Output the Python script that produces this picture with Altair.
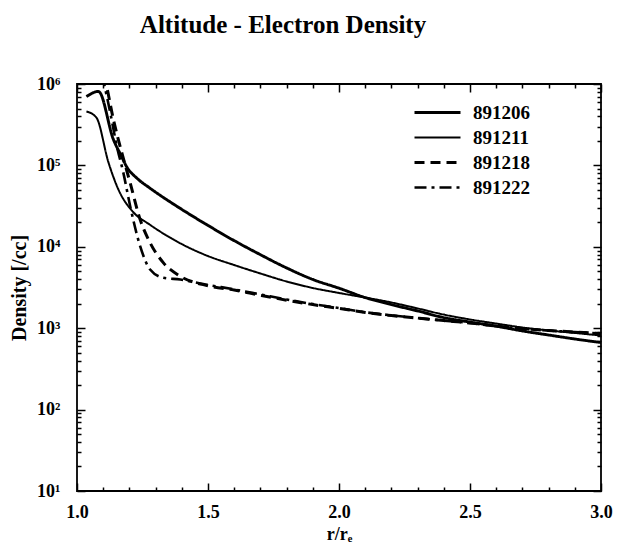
import altair as alt
import pandas as pd

series = ["891206", "891211", "891218", "891222"]

r_891206 = [1.036, 1.082, 1.139, 1.17, 1.189, 1.23, 1.277, 1.4, 1.5, 1.6, 1.7, 1.8, 1.9, 2.0,
            2.1, 2.2, 2.3, 2.4, 2.5, 2.6, 2.7, 2.8, 2.9, 3.0]
n_891206 = [7.0e5, 8.1e5, 2.08e5, 1.29e5, 9.7e4, 6.9e4, 5.3e4, 2.88e4, 1.83e4, 1.19e4, 8.0e3,
            5.5e3, 3.97e3, 3.1e3, 2.38e3, 1.95e3, 1.63e3, 1.35e3, 1.19e3, 1.06e3, 925, 825, 737, 667]

r_891211 = [1.036, 1.074, 1.12, 1.158, 1.216, 1.277, 1.4, 1.5, 1.6, 1.7, 1.8, 1.9, 2.0,
            2.1, 2.2, 2.3, 2.4, 2.5, 2.6, 2.7, 2.8, 2.9, 3.0]
n_891211 = [4.6e5, 3.87e5, 1.09e5, 5.06e4, 2.64e4, 1.88e4, 1.08e4, 7.7e3, 5.97e3, 4.7e3, 3.75e3,
            3.12e3, 2.71e3, 2.38e3, 2.07e3, 1.75e3, 1.47e3, 1.28e3, 1.14e3, 1.02e3, 938, 874, 813]

r_891218 = [1.10, 1.108, 1.139, 1.171, 1.203, 1.241, 1.279, 1.33, 1.394, 1.5, 1.6, 1.7, 1.8,
            1.9, 2.0, 2.1, 2.2, 2.3, 2.4, 2.5, 2.6, 2.7, 2.8, 2.9, 3.0]
n_891218 = [1.3e6, 1.08e6, 3.66e5, 1.43e5, 6.1e4, 2.16e4, 1.12e4, 6.35e3, 4.35e3, 3.32e3, 2.94e3,
            2.54e3, 2.21e3, 1.95e3, 1.75e3, 1.56e3, 1.43e3, 1.33e3, 1.24e3, 1.16e3, 1.06e3, 991,
            937, 897, 861]

r_891222 = [1.095, 1.101, 1.127, 1.152, 1.177, 1.203, 1.241, 1.279, 1.33, 1.394, 1.5, 1.6, 1.7,
            1.8, 1.9, 2.0, 2.1, 2.2, 2.3, 2.4, 2.5, 2.6, 2.7, 2.8, 2.9, 3.0]
n_891222 = [1.3e6, 1.08e6, 4.43e5, 1.72e5, 8.1e4, 3.15e4, 1.02e4, 5.26e3, 4.16e3, 3.96e3, 3.4e3,
            3.0e3, 2.6e3, 2.25e3, 1.98e3, 1.77e3, 1.57e3, 1.44e3, 1.33e3, 1.24e3, 1.16e3, 1.06e3,
            990, 935, 895, 858]

x_major = [1.0, 1.5, 2.0, 2.5, 3.0]
x_minor = [1.1, 1.2, 1.3, 1.4, 1.6, 1.7, 1.8, 1.9, 2.1, 2.2, 2.3, 2.4, 2.6, 2.7, 2.8, 2.9]
y_major = [1e1, 1e2, 1e3, 1e4, 1e5, 1e6]
y_minor = [m * d for d in [1e1, 1e2, 1e3, 1e4, 1e5] for m in range(2, 10)]

rows = []
for name, xs, ns in [("891206", r_891206, n_891206), ("891211", r_891211, n_891211),
                     ("891218", r_891218, n_891218), ("891222", r_891222, n_891222)]:
    for i, (a, b) in enumerate(zip(xs, ns)):
        rows.append({"series": name, "r": a, "density": b, "order": i})
df = pd.DataFrame(rows)

W, H = 524, 407
FONT = "Liberation Serif"

xscale = alt.Scale(domain=[1, 3], nice=False, zero=False)
yscale = alt.Scale(type="log", domain=[10, 1e6], nice=False)

sup = ("'10' + (datum.value > 5e5 ? '⁶' : datum.value > 5e4 ? '⁵' : datum.value > 5e3 ? '⁴' : "
       "datum.value > 500 ? '³' : datum.value > 50 ? '²' : '¹')")

lines = alt.Chart(df).mark_line(clip=True, color="black", interpolate="monotone").encode(
    x=alt.X("r:Q", scale=xscale, axis=alt.Axis(
        orient="bottom", values=x_major, format=".1f", ticks=False, tickSize=0, domain=False,
        grid=False, labelFont=FONT, labelFontSize=18, labelFontWeight="bold", labelColor="black",
        labelPadding=12, title="r/rₑ", titleFont=FONT, titleFontSize=18, titleFontWeight="bold",
        titleColor="black", titlePadding=4, labelFlush=False)),
    y=alt.Y("density:Q", scale=yscale, axis=alt.Axis(
        orient="left", values=y_major, labelExpr=sup, ticks=False, tickSize=0, domain=False,
        grid=False, labelFont=FONT, labelFontSize=18, labelFontWeight="bold", labelColor="black",
        labelPadding=17, title="Density [/cc]", titleFont=FONT, titleFontSize=20,
        titleFontWeight="bold", titleColor="black", titlePadding=7, labelFlush=False)),
    strokeDash=alt.StrokeDash("series:N", scale=alt.Scale(
        domain=series, range=[[1, 0], [1, 0], [10, 6], [12, 5, 3, 5]]),
        legend=alt.Legend(title=None)),
    strokeWidth=alt.StrokeWidth("series:N", scale=alt.Scale(
        type="ordinal", domain=series, range=[2.9, 2.0, 3.0, 2.6]),
        legend=alt.Legend(title=None)),
    order="order:Q",
)


def tick_layer(xo, yo, xv, yv, size):
    return alt.Chart(df).mark_point(opacity=0).encode(
        x=alt.X("r:Q", scale=xscale, axis=alt.Axis(
            orient=xo, offset=-H, values=xv, labels=False, domain=False, grid=False,
            ticks=True, tickSize=size, tickWidth=1.5, tickColor="black", title=None)),
        y=alt.Y("density:Q", scale=yscale, axis=alt.Axis(
            orient=yo, offset=-W, values=yv, labels=False, domain=False, grid=False,
            ticks=True, tickSize=size, tickWidth=1.5, tickColor="black", title=None)),
    )


t1 = tick_layer("top", "right", x_major, y_major, 8)
t2 = tick_layer("top", "right", x_minor, y_minor, 4)
t3 = tick_layer("bottom", "left", x_major, y_major, 8)
t4 = tick_layer("bottom", "left", x_minor, y_minor, 4)

chart = alt.layer(lines, t1, t2, t3, t4).resolve_axis(
    x="independent", y="independent"
).properties(
    width=W, height=H,
    padding={"left": 77, "top": 84, "right": 25, "bottom": 57},
    autosize=alt.AutoSizeParams(type="none"),
    title=alt.Title("Altitude - Electron Density", font=FONT, fontSize=25, fontWeight="bold",
                    color="black", anchor="middle", frame="group", dx=-56, offset=14,
                    baseline="alphabetic"),
).configure_view(
    stroke="black", strokeWidth=1.8
).configure_legend(
    orient="none", legendX=336, legendY=19, padding=0, symbolType="stroke",
    symbolSize=2116, symbolStrokeColor="black", labelFont=FONT, labelFontSize=19,
    labelFontWeight="bold", labelColor="black", labelOffset=11, rowPadding=5, clipHeight=19,
)

chart.save("out.html", embed_options={"renderer": "svg", "actions": False})
